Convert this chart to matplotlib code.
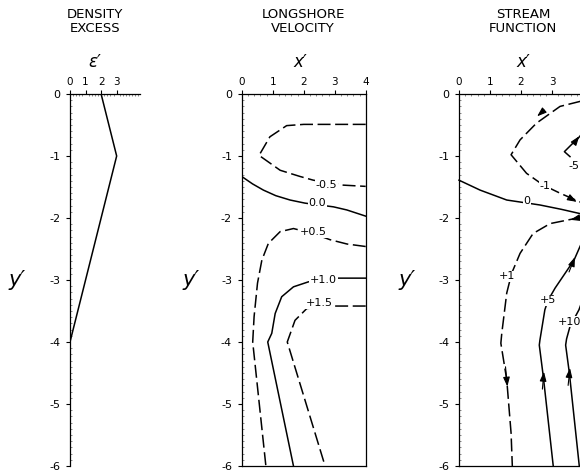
import matplotlib.pyplot as plt
from matplotlib.ticker import MultipleLocator

plt.rcParams['font.family'] = 'DejaVu Sans'
plt.rcParams['axes.unicode_minus'] = False

# density excess profile eps'(y')
eps_x = [2.0, 3.0, 0.0]
eps_y = [0.0, -1.0, -4.0]

# longshore velocity contours (x', y')
u_m05_x = [4.0, 3.0, 2.0, 1.45, 0.91, 0.56, 1.24, 1.88, 2.31, 3.28, 4.0]
u_m05_y = [-0.49, -0.49, -0.49, -0.51, -0.69, -0.99, -1.23, -1.33, -1.39, -1.47, -1.49]
u_00_x = [0.0, 0.35, 0.70, 1.1, 1.56, 2.04, 2.5, 2.96, 3.39, 4.0]
u_00_y = [-1.33, -1.45, -1.55, -1.64, -1.71, -1.76, -1.79, -1.82, -1.87, -1.97]
u_p05_x = [4.0, 3.4, 2.85, 2.3, 1.67, 1.24, 0.86, 0.65, 0.51, 0.40, 0.355, 0.78]
u_p05_y = [-2.46, -2.42, -2.35, -2.25, -2.17, -2.22, -2.41, -2.68, -3.05, -3.59, -4.0, -6.0]
u_p10_x = [4.0, 3.06, 2.15, 1.67, 1.29, 1.08, 0.97, 0.84, 1.67]
u_p10_y = [-2.97, -2.97, -3.03, -3.11, -3.27, -3.54, -3.86, -4.0, -6.0]
u_p15_x = [4.0, 2.96, 2.1, 1.72, 1.47, 2.69]
u_p15_y = [-3.42, -3.42, -3.46, -3.65, -4.0, -6.0]
vel_lines = [(u_m05_x, u_m05_y, '--'), (u_00_x, u_00_y, '-'),
             (u_p05_x, u_p05_y, '--'), (u_p10_x, u_p10_y, '-'),
             (u_p15_x, u_p15_y, '--')]
vel_labels = ['-0.5', '0.0', '+0.5', '+1.0', '+1.5']
vel_label_x = [2.74, 2.44, 2.31, 2.63, 2.5]
vel_label_y = [-1.46, -1.76, -2.23, -3.0, -3.37]

# stream function contours
psi_m1_x = [4.0, 3.9, 3.26, 2.5, 1.97, 1.68, 2.18, 2.72, 3.26, 3.9, 4.0]
psi_m1_y = [-0.1, -0.12, -0.2, -0.47, -0.74, -0.98, -1.28, -1.47, -1.6, -1.74, -1.76]
psi_m5_x = [4.0, 3.85, 3.62, 3.40, 3.58]
psi_m5_y = [-0.62, -0.71, -0.82, -0.93, -1.01]
psi_0_x = [0.0, 0.68, 1.54, 2.61, 3.3, 4.0]
psi_0_y = [-1.39, -1.55, -1.71, -1.79, -1.86, -1.94]
psi_p1_x = [4.0, 3.63, 2.94, 2.39, 1.97, 1.7, 1.54, 1.38, 1.35, 1.54, 1.68, 1.72]
psi_p1_y = [-1.97, -2.02, -2.09, -2.25, -2.57, -2.89, -3.21, -3.86, -4.02, -4.61, -5.47, -6.0]
psi_p5_x = [4.0, 3.71, 3.1, 2.87, 2.77, 2.61, 2.59, 2.72, 3.04]
psi_p5_y = [-2.35, -2.68, -3.13, -3.33, -3.48, -3.97, -4.05, -4.56, -6.0]
psi_p10_x = [4.0, 3.87, 3.58, 3.47, 3.44, 3.56, 3.88]
psi_p10_y = [-3.3, -3.48, -3.75, -3.95, -4.05, -4.5, -6.0]
psi_lines = [(psi_m1_x, psi_m1_y, '--'), (psi_m5_x, psi_m5_y, '-'),
             (psi_0_x, psi_0_y, '-'), (psi_p1_x, psi_p1_y, '--'),
             (psi_p5_x, psi_p5_y, '-'), (psi_p10_x, psi_p10_y, '-')]
psi_labels = ['-1', '-5', '0', '+1', '+5', '+10']
psi_label_x = [2.77, 3.72, 2.2, 1.54, 2.87, 3.57]
psi_label_y = [-1.49, -1.16, -1.72, -2.94, -3.33, -3.67]

# flow direction arrows: tail -> head
arrow_tail = [(2.75, -0.26), (3.55, -1.67), (3.7, -0.8), (3.85, -2.0),
              (3.55, -2.87), (1.5, -4.4), (2.69, -4.76), (3.52, -4.7)]
arrow_head = [(2.52, -0.36), (3.8, -1.74), (3.88, -0.68), (3.6, -2.03),
              (3.74, -2.63), (1.56, -4.72), (2.74, -4.48), (3.58, -4.42)]

DASH = (8.5, 3)
LW = 1.1

fig = plt.figure(figsize=(5.8, 4.75), dpi=100)
ax1 = fig.add_axes([70 / 580, 9 / 475, 70 / 580, 372 / 475])
ax2 = fig.add_axes([241.7 / 580, 9 / 475, 124 / 580, 372 / 475])
ax3 = fig.add_axes([459 / 580, 9 / 475, 124 / 580, 372 / 475])


def style_axis(ax, xmax, xticks, box, ylab_x):
    ax.set_xlim(0, xmax)
    ax.set_ylim(-6, 0)
    ax.xaxis.tick_top()
    ax.set_xticks(xticks)
    ax.set_xticklabels([str(t) for t in xticks])
    ax.xaxis.set_minor_locator(MultipleLocator(0.2))
    ax.set_yticks(range(-6, 1))
    ax.set_yticklabels(['-6', '-5', '-4', '-3', '-2', '-1', '0'])
    ax.yaxis.set_minor_locator(MultipleLocator(0.1))
    ax.tick_params(axis='x', labelsize=7.5, length=3, width=0.8, pad=2)
    ax.tick_params(axis='y', labelsize=8, length=3, width=0.8, pad=4)
    ax.tick_params(which='minor', direction='in', length=1.2, width=0.5,
                   color='0.35')
    for side in ['left', 'top', 'bottom', 'right']:
        ax.spines[side].set_linewidth(0.9)
    if not box:
        ax.spines['bottom'].set_visible(False)
        ax.spines['right'].set_visible(False)
    ax.text(ylab_x, -3.0, "y\u2032", transform=ax.get_yaxis_transform(),
            fontsize=15, style='italic', ha='center', va='center')


style_axis(ax1, 4.5, [0, 1, 2, 3], box=False, ylab_x=-0.76)
style_axis(ax2, 4.0, [0, 1, 2, 3, 4], box=True, ylab_x=-0.41)
style_axis(ax3, 4.0, [0, 1, 2, 3], box=True, ylab_x=-0.42)

# density excess
ax1.plot(eps_x, eps_y, color='black', lw=LW)

# longshore velocity
for xs, ys, ls in vel_lines:
    line, = ax2.plot(xs, ys, color='black', lw=LW, ls=ls)
    if ls == '--':
        line.set_dashes(DASH)
for lab, lx, ly in zip(vel_labels, vel_label_x, vel_label_y):
    ax2.text(lx, ly, lab, fontsize=8, ha='center', va='center',
             bbox=dict(facecolor='white', edgecolor='none', pad=0.6))

# stream function
for xs, ys, ls in psi_lines:
    line, = ax3.plot(xs, ys, color='black', lw=LW, ls=ls, clip_on=False)
    if ls == '--':
        line.set_dashes(DASH)
for lab, lx, ly in zip(psi_labels, psi_label_x, psi_label_y):
    ax3.text(lx, ly, lab, fontsize=8, ha='center', va='center',
             bbox=dict(facecolor='white', edgecolor='none', pad=0.6))
for tail, head in zip(arrow_tail, arrow_head):
    ax3.annotate('', xy=head, xytext=tail,
                 arrowprops=dict(arrowstyle='-|>,head_length=0.7,head_width=0.25',
                                 color='black', lw=0.8, shrinkA=0, shrinkB=0,
                                 mutation_scale=8))

# axis names above the top ticks
ax1.text(1.6, 1.085, "\u03b5\u2032", transform=ax1.get_xaxis_transform(),
         fontsize=12, style='italic', ha='center', va='center')
ax2.text(1.88, 1.085, "x\u2032", transform=ax2.get_xaxis_transform(),
         fontsize=12, style='italic', ha='center', va='center')
ax3.text(2.06, 1.085, "x\u2032", transform=ax3.get_xaxis_transform(),
         fontsize=12, style='italic', ha='center', va='center')

# panel titles
fig.text(95 / 580, 1 - 8 / 475, 'DENSITY\nEXCESS', ha='center', va='top',
         fontsize=9.5, linespacing=1.05)
fig.text(303 / 580, 1 - 8 / 475, 'LONGSHORE\nVELOCITY', ha='center', va='top',
         fontsize=9.5, linespacing=1.05)
fig.text(523 / 580, 1 - 8 / 475, 'STREAM\nFUNCTION', ha='center', va='top',
         fontsize=9.5, linespacing=1.05)

fig.savefig('out.png', dpi=100)
